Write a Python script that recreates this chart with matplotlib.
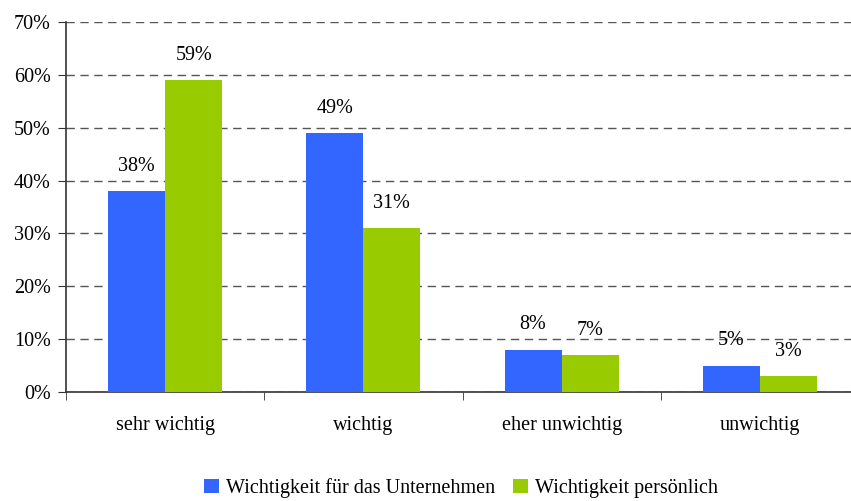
import numpy as np
import matplotlib.pyplot as plt
from matplotlib.ticker import MultipleLocator, FuncFormatter

categories = ["sehr wichtig", "wichtig", "eher unwichtig", "unwichtig"]
unternehmen = [38, 49, 8, 5]
persoenlich = [59, 31, 7, 3]
series_names = ["Wichtigkeit für das Unternehmen", "Wichtigkeit persönlich"]

plt.rcParams['font.family'] = ['Liberation Serif', 'DejaVu Serif']
FS = 14.5

W, H = 851, 501
fig = plt.figure(figsize=(W / 100, H / 100), dpi=100)
ax = fig.add_axes([66 / W, (H - 392) / H, (859 - 66) / W, 370 / H])

x = np.arange(len(categories))
width = 0.288
b1 = ax.bar(x - width / 2, unternehmen, width, color='#3366FF', label=series_names[0], zorder=3)
b2 = ax.bar(x + width / 2, persoenlich, width, color='#99CC00', label=series_names[1], zorder=3)

for bars, vals in ((b1, unternehmen), (b2, persoenlich)):
    for bar, v in zip(bars, vals):
        ax.annotate(f"{v}%", (bar.get_x() + bar.get_width() / 2, v),
                    xytext=(0, 11), textcoords='offset points',
                    ha='center', va='bottom', fontsize=FS)

ax.set_xlim(-0.5, 3.5)
ax.set_ylim(0, 70)
ax.yaxis.set_major_locator(MultipleLocator(10))
ax.yaxis.set_major_formatter(FuncFormatter(lambda v, p: f"{int(v)}%"))
ax.yaxis.grid(True, linestyle=(0, (6, 4)), color='#555555', linewidth=1, zorder=0)

ax.set_xticks(x)
ax.set_xticklabels(categories)
ax.set_xticks(np.arange(-0.5, 4, 1), minor=True)
ax.tick_params(axis='x', which='major', length=0, pad=17, labelsize=FS)
ax.tick_params(axis='x', which='minor', length=6, direction='out', color='#333333')
ax.tick_params(axis='y', length=6, direction='out', labelsize=FS, color='#333333', pad=5)

for side in ('top', 'right'):
    ax.spines[side].set_visible(False)
for side in ('left', 'bottom'):
    ax.spines[side].set_color('#333333')
    ax.spines[side].set_linewidth(1.2)

fig.legend(handles=[b1, b2], loc='center', bbox_to_anchor=(461 / W, (H - 488) / H),
           ncol=2, frameon=False, fontsize=FS, handlelength=0.75, handleheight=0.75,
           handletextpad=0.35, columnspacing=0.9)

fig.savefig('out.png', dpi=100)
